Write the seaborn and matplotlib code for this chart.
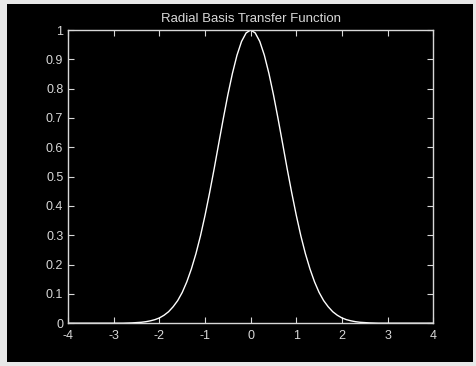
import seaborn as sns
from matplotlib import pyplot as plt
from matplotlib.patches import Rectangle
import pandas as pd

# radial basis curve
n = [-4.0, -3.0, -2.8, -2.6, -2.5, -2.4, -2.3, -2.2, -2.1, -2.0, -1.9, -1.8, -1.7, -1.6,
     -1.5, -1.4, -1.3, -1.2, -1.1, -1.0, -0.9, -0.8, -0.7, -0.6, -0.5, -0.4, -0.3,
     -0.2, -0.1, 0.0, 0.1, 0.2, 0.3, 0.4, 0.5, 0.6, 0.7, 0.8, 0.9, 1.0, 1.1, 1.2,
     1.3, 1.4, 1.5, 1.6, 1.7, 1.8, 1.9, 2.0, 2.1, 2.2, 2.3, 2.4, 2.5, 2.6, 2.8, 3.0, 4.0]
a = [0.000, 0.000, 0.000, 0.001, 0.002, 0.003, 0.005, 0.008, 0.012, 0.018, 0.027, 0.039,
     0.056, 0.077, 0.105, 0.141, 0.185, 0.237, 0.298, 0.368, 0.445, 0.527, 0.613, 0.698,
     0.779, 0.852, 0.914, 0.961, 0.990, 1.000, 0.990, 0.961, 0.914, 0.852, 0.779, 0.698,
     0.613, 0.527, 0.445, 0.368, 0.298, 0.237, 0.185, 0.141, 0.105, 0.077, 0.056, 0.039,
     0.027, 0.018, 0.012, 0.008, 0.005, 0.003, 0.002, 0.001, 0.000, 0.000, 0.000]
xticks = [-4, -3, -2, -1, 0, 1, 2, 3, 4]
yticks = [0, 0.1, 0.2, 0.3, 0.4, 0.5, 0.6, 0.7, 0.8, 0.9, 1]
ylabels = ['0', '0.1', '0.2', '0.3', '0.4', '0.5', '0.6', '0.7', '0.8', '0.9', '1']

df = pd.DataFrame({'n': n, 'a': a})

sns.set_style('dark')
plt.rcParams['font.family'] = ['Liberation Sans', 'DejaVu Sans']
fg = '#d8d8d8'

fig = plt.figure(figsize=(4.77, 3.66), dpi=100, facecolor='#e8e8e8')
# black screen area inside the light scan border
fig.patches.append(Rectangle((7 / 477, 4 / 366), 466 / 477, 358 / 366,
                             transform=fig.transFigure, facecolor='black',
                             edgecolor='none', zorder=-10))
ax = fig.add_axes([0.143, 0.117, 0.765, 0.801])
ax.set_zorder(5)
ax.set_facecolor('black')

sns.lineplot(df, x='n', y='a', ax=ax, color='white', linewidth=1.0)

ax.set_xlim(-4, 4)
ax.set_ylim(0, 1)
ax.set_xticks(xticks, [str(t) for t in xticks])
ax.set_yticks(yticks, ylabels)
ax.tick_params(direction='in', length=4, width=0.8, colors=fg, labelsize=9,
               top=True, right=True, bottom=True, left=True)
ax.tick_params(axis='x', pad=5)
for s in ax.spines.values():
    s.set_visible(True)
    s.set_color(fg)
    s.set_linewidth(1.0)
ax.grid(False)
ax.set_xlabel('')
ax.set_ylabel('')
ax.set_title('Radial Basis Transfer Function', color=fg, fontsize=9.5, pad=6)

fig.savefig('out.png', facecolor=fig.get_facecolor())
